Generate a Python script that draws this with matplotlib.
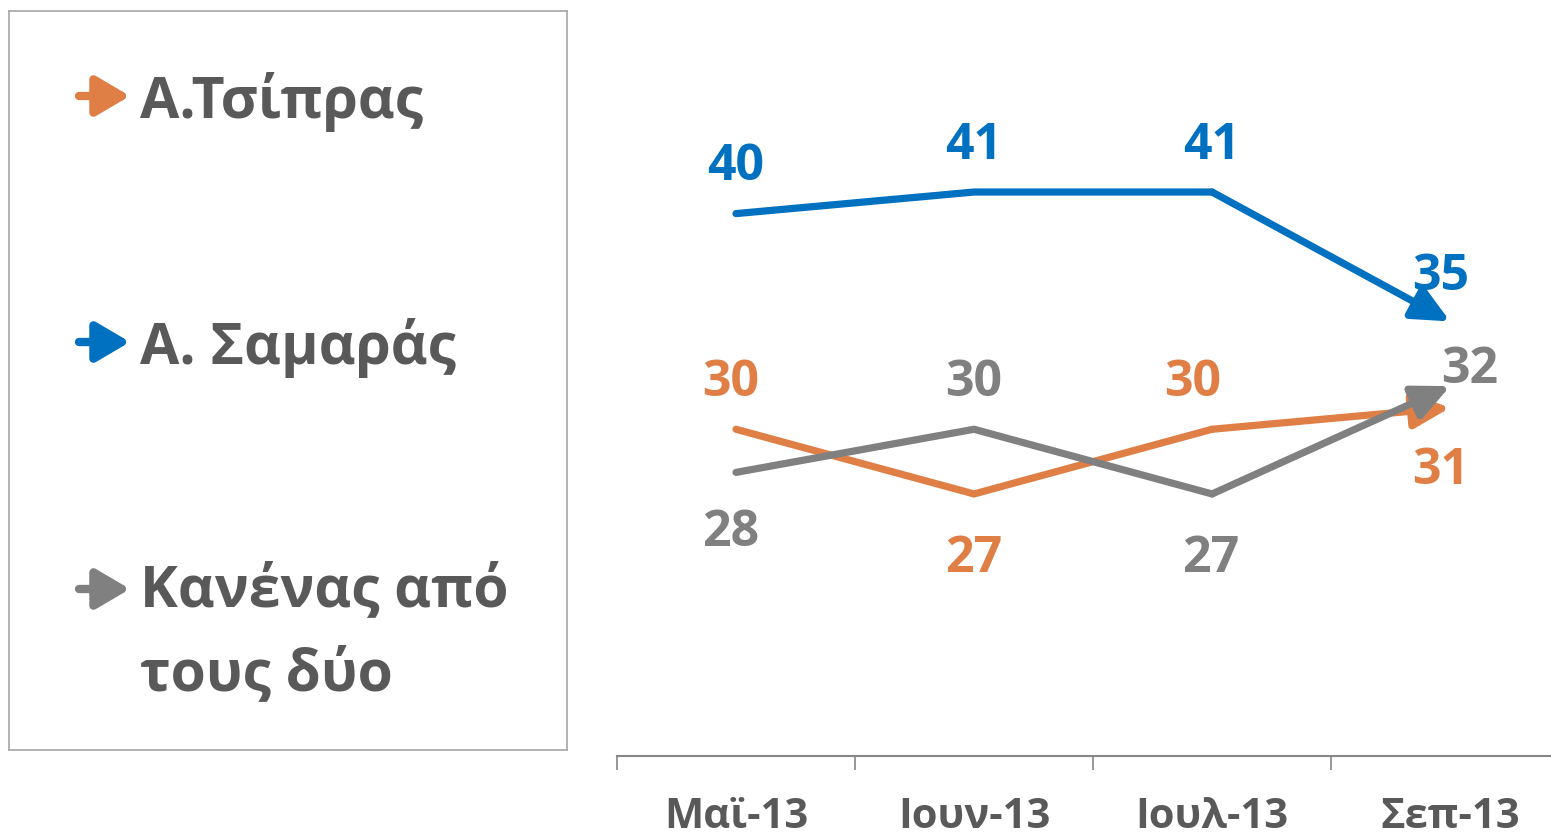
import numpy as np
import matplotlib
matplotlib.use("Agg")
import matplotlib.pyplot as plt

# data
months = ["Μαϊ-13", "Ιουν-13", "Ιουλ-13", "Σεπ-13"]
names = ["Α.Τσίπρας", "Α. Σαμαράς", "Κανένας από\nτους δύο"]
tsipras = [30, 27, 30, 31]
samaras = [40, 41, 41, 35]
kanenas = [28, 30, 27, 32]

colors = ["#E07F45", "#0070C0", "#808080"]
text_grey = "#595959"

# label offsets in points (dx, dy) for every point of each series
offsets = [
    [(-4, 34), (0, -46), (-14, 34), (-7, -45)],
    [(0, 34), (0, 34), (0, 34), (-7, 33)],
    [(-4, -43), (0, 34), (-1, -46), (14, 12)],
]

plt.rcParams["font.family"] = ["Open Sans", "DejaVu Sans"]
plt.rcParams["font.weight"] = "bold"

fig = plt.figure(figsize=(15.51, 8.37), dpi=100)
ax = fig.add_axes([617 / 1551, 80 / 837, 934 / 1551, 757 / 837])

x = np.arange(len(months))
lw = 5.2
series = [tsipras, samaras, kanenas]
for i, vals in enumerate(series):
    c = colors[i]
    ax.plot(x[:-1], vals[:-1], color=c, lw=lw, solid_capstyle="round",
            solid_joinstyle="round")
    ax.annotate("", xy=(x[-1], vals[-1]), xytext=(x[-2], vals[-2]),
                arrowprops=dict(arrowstyle="-|>,head_length=1.6,head_width=0.75",
                                mutation_scale=14, color=c, lw=lw,
                                shrinkA=0, shrinkB=0))
    for j, v in enumerate(vals):
        dx, dy = offsets[i][j]
        ax.annotate(str(v), (x[j], v), xytext=(dx, dy), textcoords="offset points",
                    ha="center", va="center", fontsize=36, fontweight="bold",
                    color=c)

for s in ["top", "right", "left"]:
    ax.spines[s].set_visible(False)
ax.spines["bottom"].set_color("#868686")
ax.spines["bottom"].set_linewidth(1.5)
ax.set_yticks([])
ax.set_xticks(x)
ax.set_xticklabels(months, fontsize=30, fontweight="bold", color=text_grey)
ax.tick_params(axis="x", which="major", length=0, pad=29)
ax.set_xticks(np.arange(-0.5, 4, 1), minor=True)
ax.tick_params(axis="x", which="minor", length=10, width=1.2, color="#868686",
               direction="out")
ax.set_xlim(-0.5, 3.424)
ax.set_ylim(14.85, 49.95)

# legend box drawn by hand
lax = fig.add_axes([9 / 1551, 86 / 837, 558 / 1551, 739 / 837])
lax.set_xlim(0, 558)
lax.set_ylim(739, 0)
lax.set_xticks([])
lax.set_yticks([])
for s in lax.spines.values():
    s.set_color("#A6A6A6")
    s.set_linewidth(1.2)

arrow_y = [85, 331, 578]
text_y = [106, 352, 678]
for i, name in enumerate(names):
    lax.annotate("", xy=(121, arrow_y[i]), xytext=(70, arrow_y[i]),
                 arrowprops=dict(arrowstyle="-|>,head_length=1.7,head_width=1.0",
                                 mutation_scale=12, color=colors[i], lw=6,
                                 capstyle="round", shrinkA=0, shrinkB=0))
    lax.text(131, text_y[i], name, fontsize=41, fontweight="bold",
             color=text_grey, va="baseline", ha="left", linespacing=1.58)

fig.savefig("out.png", dpi=100)
